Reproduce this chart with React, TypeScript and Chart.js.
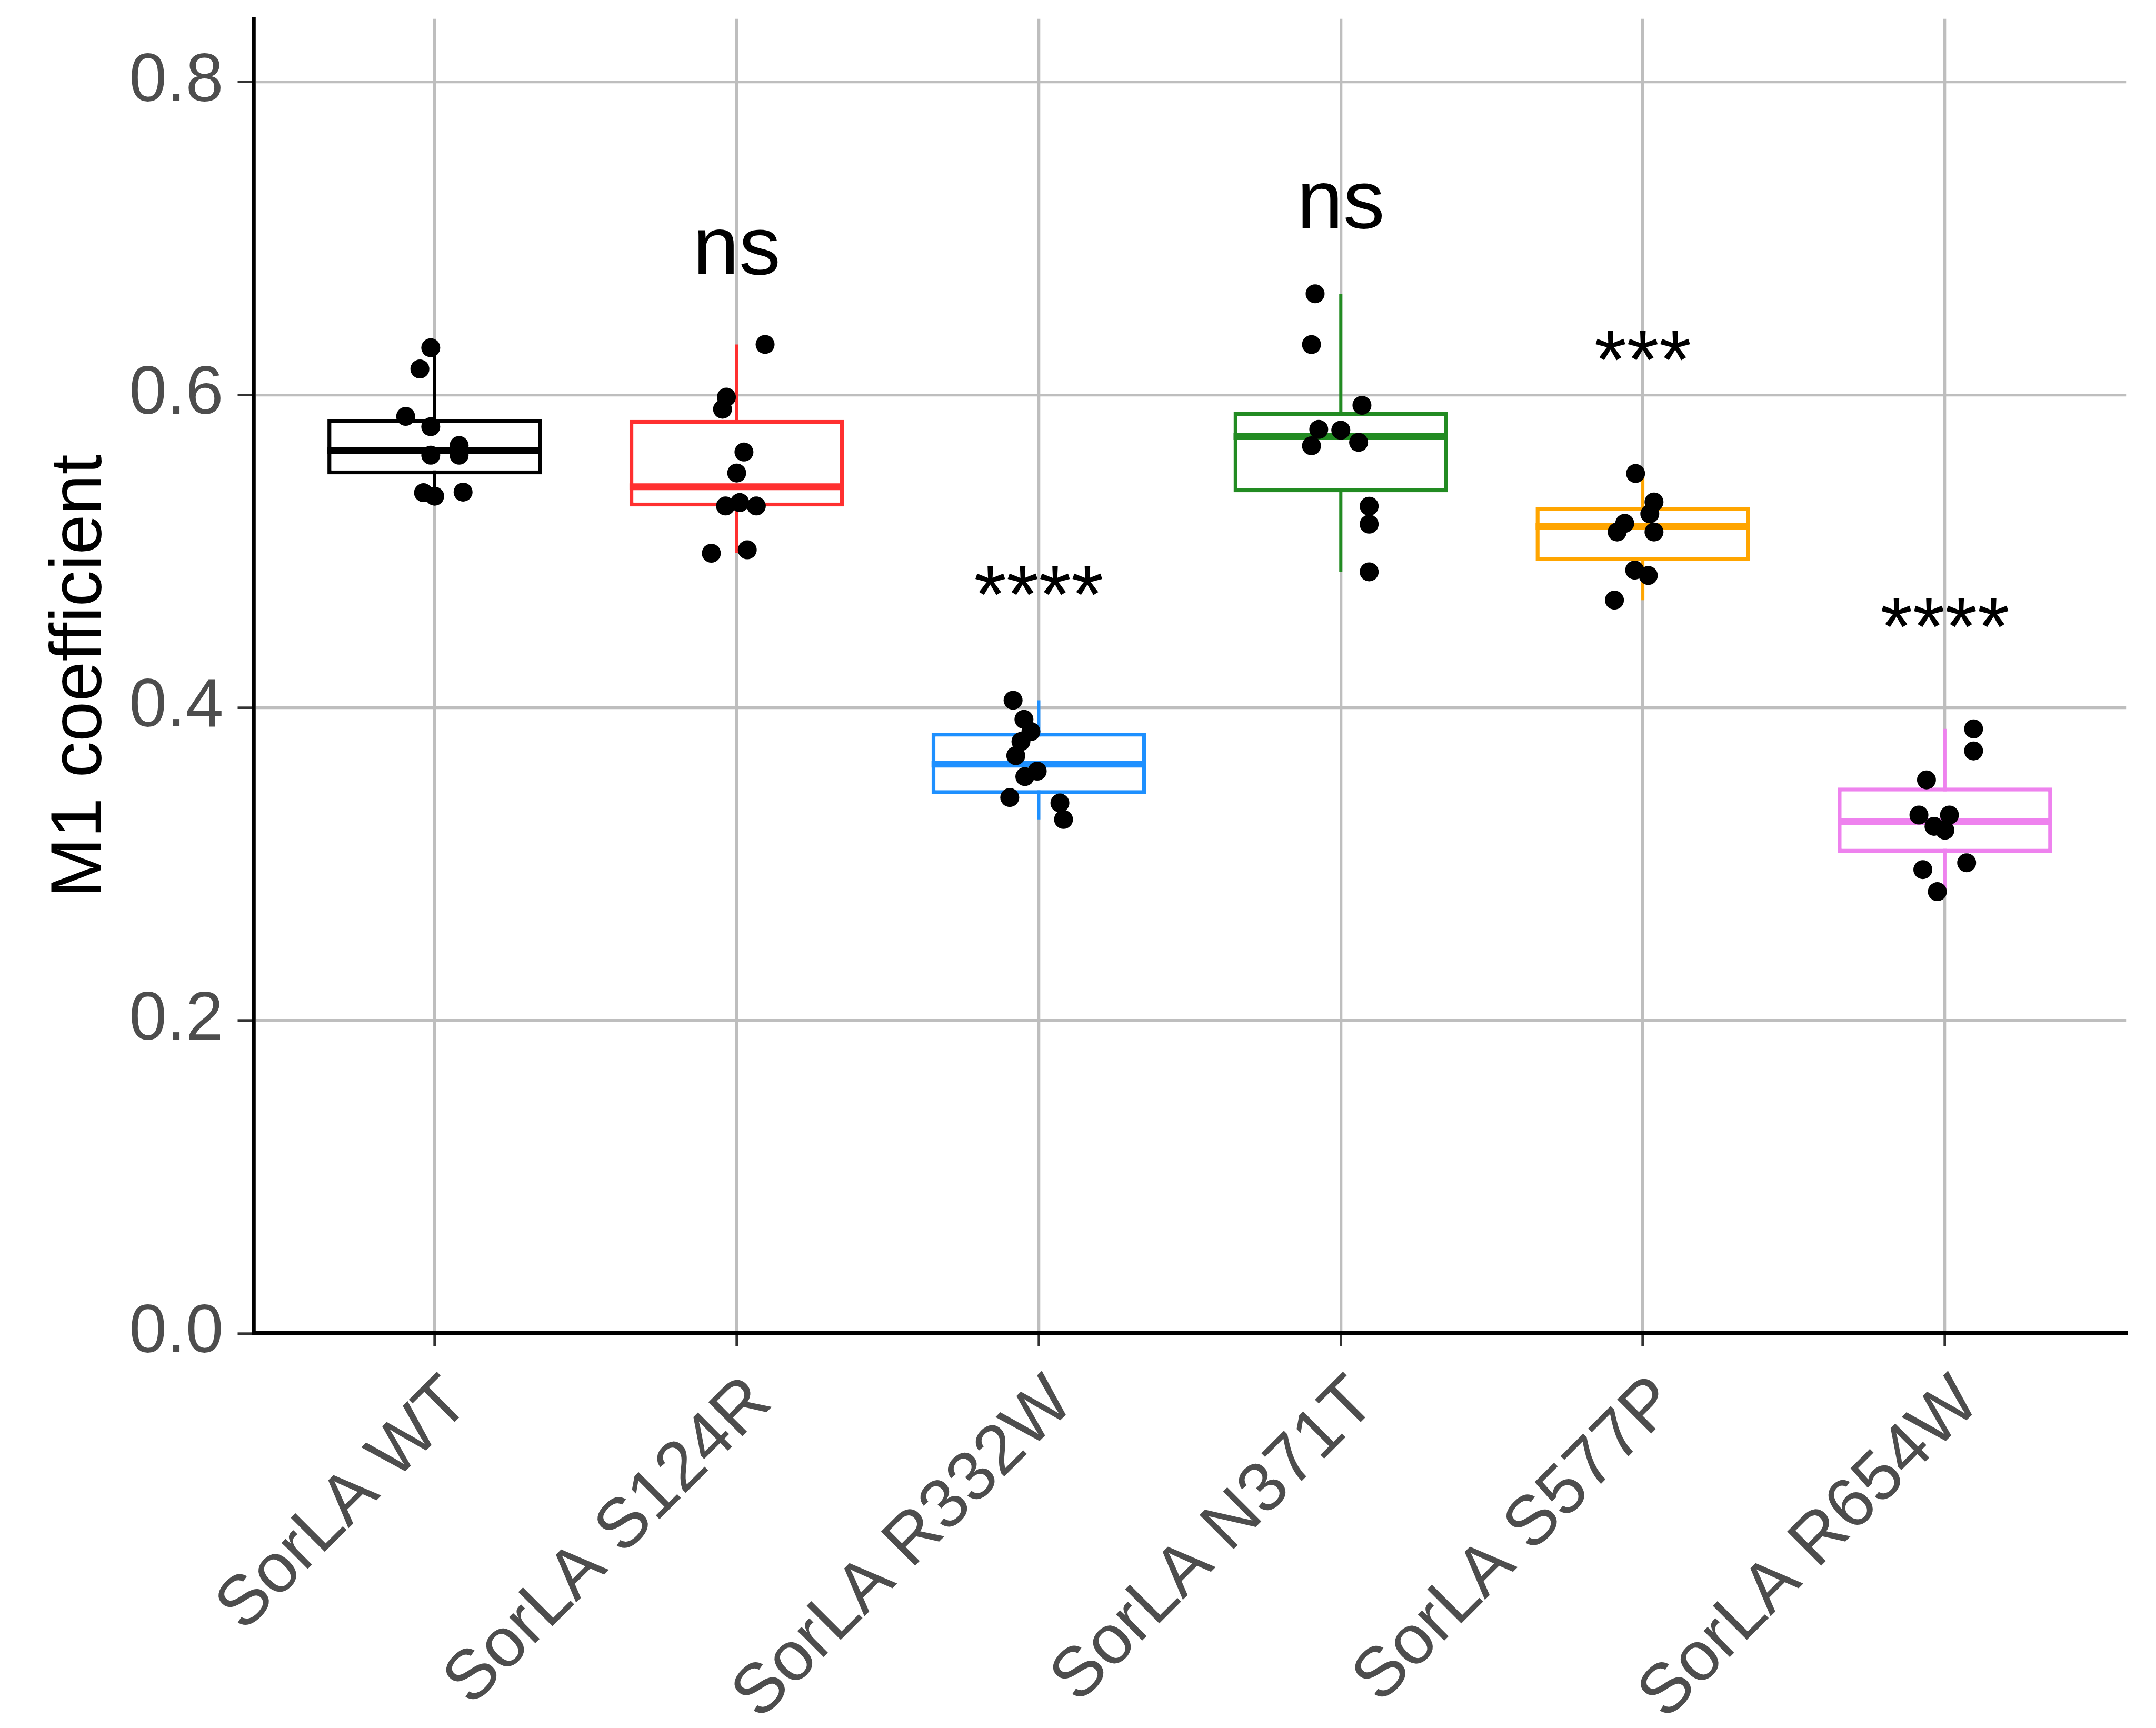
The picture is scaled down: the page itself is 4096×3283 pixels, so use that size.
import { useEffect, useRef } from "react";
import { Chart, registerables } from "chart.js";

Chart.register(...registerables);

// ---------- data ----------
const categories = [
  "SorLA WT",
  "SorLA S124R",
  "SorLA R332W",
  "SorLA N371T",
  "SorLA S577P",
  "SorLA R654W",
];
const boxColors = ["#000000", "#FF3030", "#1E90FF", "#228B22", "#FFA500", "#EE82EE"];

const whiskerLow = [0.5353, 0.4988, 0.3286, 0.4869, 0.4688, 0.2824];
const q1 = [0.5492, 0.5287, 0.3448, 0.5378, 0.4939, 0.3073];
const median = [0.5645, 0.5413, 0.364, 0.5735, 0.5161, 0.3274];
const q3 = [0.5846, 0.5841, 0.3841, 0.589, 0.5283, 0.349];
const whiskerHigh = [0.6302, 0.6323, 0.4048, 0.6647, 0.5498, 0.3865];

const wtValues = [0.6302, 0.6166, 0.5863, 0.5797, 0.5615, 0.5677, 0.5615, 0.5375, 0.5353, 0.5379];
const wtJitter = [-0.013, -0.049, -0.096, -0.013, -0.013, 0.081, 0.081, -0.037, 0.0, 0.094];
const s124rValues = [0.6323, 0.5986, 0.5909, 0.5635, 0.5501, 0.529, 0.5312, 0.529, 0.4988, 0.501];
const s124rJitter = [0.094, -0.034, -0.047, 0.024, 0.0, -0.037, 0.01, 0.065, -0.084, 0.035];
const r332wValues = [0.4048, 0.3926, 0.3848, 0.3784, 0.3694, 0.3595, 0.356, 0.3426, 0.3391, 0.3286];
const r332wJitter = [-0.085, -0.049, -0.026, -0.059, -0.076, -0.005, -0.046, -0.096, 0.07, 0.082];
const n371tValues = [0.6647, 0.6322, 0.5934, 0.578, 0.5675, 0.5775, 0.5697, 0.5289, 0.5174, 0.4869];
const n371tJitter = [-0.085, -0.097, 0.07, -0.073, -0.097, 0.0, 0.059, 0.094, 0.094, 0.094];
const s577pValues = [0.5498, 0.5316, 0.524, 0.5179, 0.5124, 0.5124, 0.488, 0.4846, 0.4688];
const s577pJitter = [-0.024, 0.037, 0.023, -0.06, -0.085, 0.037, -0.027, 0.018, -0.094];
const r654wValues = [0.3865, 0.3724, 0.3539, 0.3314, 0.3314, 0.3242, 0.3217, 0.2965, 0.3009, 0.2824];
const r654wJitter = [0.095, 0.095, -0.061, -0.086, 0.015, -0.036, 0.0, -0.073, 0.072, -0.025];

const pointValues = [wtValues, s124rValues, r332wValues, n371tValues, s577pValues, r654wValues];
const pointJitter = [wtJitter, s124rJitter, r332wJitter, n371tJitter, s577pJitter, r654wJitter];

const sigLabels = ["", "ns", "****", "ns", "***", "****"];
const sigLabelY = [0, 0.6773, 0.4542, 0.7069, 0.6041, 0.4336];

const yTicks = [0, 0.2, 0.4, 0.6, 0.8];
const yMin = 0;
const yMax = 0.8405;
const xMin = -0.6;
const xMax = 5.6;
const yTitle = "M1 coefficient";

// ---------- styles ----------
const BOX_WIDTH = 0.71;
const FONT = '"Liberation Sans", Arial, sans-serif';
const GRID = "#BEBEBE";
const TICK_TEXT = "#4D4D4D";

const sigPlugin = {
  id: "sigLabels",
  afterDatasetsDraw(chart: any) {
    const { ctx, scales } = chart;
    const xs = scales.x;
    const ys = scales.y;
    ctx.save();
    ctx.font = `158px ${FONT}`;
    ctx.fillStyle = "#000000";
    ctx.textAlign = "center";
    ctx.textBaseline = "alphabetic";
    sigLabels.forEach((t, i) => {
      if (!t) return;
      ctx.fillText(t, xs.getPixelForValue(i), ys.getPixelForValue(sigLabelY[i]));
    });
    ctx.restore();
  },
};

export default function App() {
  const ref = useRef<HTMLCanvasElement | null>(null);

  useEffect(() => {
    if (!ref.current) return;

    const whiskerSets = categories.map((_, i) => ({
      type: "line",
      data: [
        { x: i, y: whiskerLow[i] },
        { x: i, y: whiskerHigh[i] },
      ],
      borderColor: boxColors[i],
      borderWidth: 6,
      pointRadius: 0,
      fill: false,
      order: 4,
    }));

    const boxSet = {
      type: "bar",
      data: categories.map((_, i) => ({ x: i, y: [q1[i], q3[i]] })),
      backgroundColor: "#FFFFFF",
      borderColor: boxColors,
      borderWidth: 7.5,
      borderSkipped: false,
      barPercentage: BOX_WIDTH,
      categoryPercentage: 1,
      order: 3,
    };

    const medianSets = categories.map((_, i) => ({
      type: "line",
      data: [
        { x: i - BOX_WIDTH / 2, y: median[i] },
        { x: i + BOX_WIDTH / 2, y: median[i] },
      ],
      borderColor: boxColors[i],
      borderWidth: 13,
      pointRadius: 0,
      fill: false,
      order: 2,
    }));

    const pointSet = {
      type: "scatter",
      data: pointValues.flatMap((vals, i) =>
        vals.map((v, k) => ({ x: i + pointJitter[i][k], y: v }))
      ),
      backgroundColor: "#000000",
      borderWidth: 0,
      pointRadius: 18,
      order: 1,
    };

    const chart = new Chart(ref.current, {
      type: "bar",
      data: { datasets: [...whiskerSets, boxSet, ...medianSets, pointSet] as any },
      options: {
        animation: false,
        responsive: false,
        devicePixelRatio: 1,
        events: [],
        layout: { padding: { top: 35.8, right: 56.8, left: 0, bottom: 0 } },
        plugins: { legend: { display: false }, tooltip: { enabled: false } },
        scales: {
          x: {
            type: "linear",
            min: xMin,
            max: xMax,
            bounds: "data",
            offset: false,
            afterBuildTicks: (s: any) => {
              s.ticks = categories.map((_, i) => ({ value: i }));
            },
            afterFit: (s: any) => {
              s.height = 749.8;
              s.paddingLeft = 0;
              s.paddingRight = 0;
            },
            ticks: {
              autoSkip: false,
              minRotation: 45,
              maxRotation: 45,
              labelOffset: 45,
              padding: 29,
              color: TICK_TEXT,
              font: { family: FONT, size: 133 },
              callback: (v: any) => categories[Math.round(Number(v))] ?? "",
            },
            grid: {
              offset: false,
              color: GRID,
              lineWidth: 5.3,
              tickLength: 24,
              tickColor: "#333333",
              tickWidth: 4.7,
            },
            border: { color: "#000000", width: 7.8 },
          },
          y: {
            type: "linear",
            min: yMin,
            max: yMax,
            bounds: "data",
            afterBuildTicks: (s: any) => {
              s.ticks = yTicks.map((v) => ({ value: v }));
            },
            afterFit: (s: any) => {
              s.width = 481.5;
              s.paddingTop = 0;
              s.paddingBottom = 0;
            },
            ticks: {
              padding: 27,
              color: TICK_TEXT,
              font: { family: FONT, size: 129 },
              callback: (v: any) => Number(v).toFixed(1),
            },
            grid: {
              color: GRID,
              lineWidth: 5.3,
              tickLength: 30,
              tickColor: "#333333",
              tickWidth: 4.7,
            },
            border: { color: "#000000", width: 7.8 },
            title: {
              display: true,
              text: yTitle,
              color: "#000000",
              font: { family: FONT, size: 137 },
              padding: { top: 72, bottom: 0 },
            },
          },
        },
      } as any,
      plugins: [sigPlugin],
    });

    return () => chart.destroy();
  }, []);

  return (
    <div style={{ position: "absolute", left: 0, top: 0, width: 4096, height: 3283, background: "#FFFFFF" }}>
      <canvas ref={ref} width={4096} height={3283} style={{ display: "block" }} />
    </div>
  );
}
